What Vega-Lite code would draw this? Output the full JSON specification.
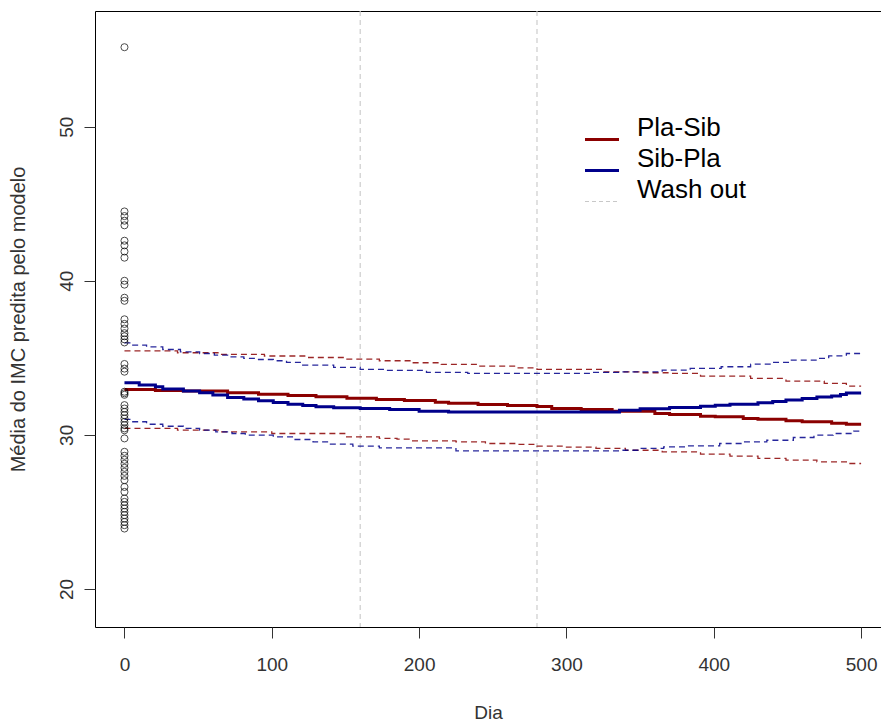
{
  "$schema": "https://vega.github.io/schema/vega-lite/v6.json",
  "width": 786,
  "height": 616,
  "autosize": "none",
  "padding": {"left": 95, "top": 11, "right": 0, "bottom": 95},
  "background": "white",
  "config": {
    "view": {"stroke": "#000000", "strokeWidth": 1},
    "font": "Liberation Sans",
    "axis": {
      "grid": false,
      "domain": false,
      "labelFont": "Liberation Sans",
      "labelFontSize": 19,
      "labelColor": "#333333",
      "titleFont": "Liberation Sans",
      "titleFontSize": 19,
      "titleFontWeight": "normal",
      "titleColor": "#333333",
      "tickColor": "#333333",
      "tickSize": 11
    }
  },
  "datasets": {
    "pontos": [
      {"dia": 0, "imc": 55.16}, {"dia": 0, "imc": 44.5}, {"dia": 0, "imc": 44.2}, {"dia": 0, "imc": 43.9},
      {"dia": 0, "imc": 43.6}, {"dia": 0, "imc": 42.6}, {"dia": 0, "imc": 42.3}, {"dia": 0, "imc": 41.9},
      {"dia": 0, "imc": 41.5}, {"dia": 0, "imc": 40.0}, {"dia": 0, "imc": 39.75}, {"dia": 0, "imc": 38.9},
      {"dia": 0, "imc": 38.7}, {"dia": 0, "imc": 37.5}, {"dia": 0, "imc": 37.2}, {"dia": 0, "imc": 36.9},
      {"dia": 0, "imc": 36.6}, {"dia": 0, "imc": 36.4}, {"dia": 0, "imc": 36.2}, {"dia": 0, "imc": 36.0},
      {"dia": 0, "imc": 34.6}, {"dia": 0, "imc": 34.3}, {"dia": 0, "imc": 34.1}, {"dia": 0, "imc": 32.8},
      {"dia": 0, "imc": 32.7}, {"dia": 0, "imc": 32.6}, {"dia": 0, "imc": 31.93}, {"dia": 0, "imc": 31.71},
      {"dia": 0, "imc": 31.49}, {"dia": 0, "imc": 31.28}, {"dia": 0, "imc": 31.06}, {"dia": 0, "imc": 30.84},
      {"dia": 0, "imc": 30.63}, {"dia": 0, "imc": 30.42}, {"dia": 0, "imc": 30.3}, {"dia": 0, "imc": 29.77},
      {"dia": 0, "imc": 28.9}, {"dia": 0, "imc": 28.64}, {"dia": 0, "imc": 28.38}, {"dia": 0, "imc": 28.12},
      {"dia": 0, "imc": 27.86}, {"dia": 0, "imc": 27.6}, {"dia": 0, "imc": 27.34}, {"dia": 0, "imc": 27.06},
      {"dia": 0, "imc": 26.62}, {"dia": 0, "imc": 26.3}, {"dia": 0, "imc": 25.87}, {"dia": 0, "imc": 25.65},
      {"dia": 0, "imc": 25.43}, {"dia": 0, "imc": 25.22}, {"dia": 0, "imc": 25.0}, {"dia": 0, "imc": 24.79},
      {"dia": 0, "imc": 24.57}, {"dia": 0, "imc": 24.35}, {"dia": 0, "imc": 24.14}, {"dia": 0, "imc": 23.92}
    ],
    "washout": [
      {"dia": 160, "grupo": "Wash out"},
      {"dia": 280, "grupo": "Wash out"}
    ],
    "curvas": [
      {"grupo": "Pla-Sib", "tipo": "est", "dia": 0, "imc": 32.95},
      {"grupo": "Pla-Sib", "tipo": "est", "dia": 21, "imc": 32.88},
      {"grupo": "Pla-Sib", "tipo": "est", "dia": 40, "imc": 32.84},
      {"grupo": "Pla-Sib", "tipo": "est", "dia": 70, "imc": 32.73},
      {"grupo": "Pla-Sib", "tipo": "est", "dia": 91, "imc": 32.64},
      {"grupo": "Pla-Sib", "tipo": "est", "dia": 111, "imc": 32.56},
      {"grupo": "Pla-Sib", "tipo": "est", "dia": 130, "imc": 32.47},
      {"grupo": "Pla-Sib", "tipo": "est", "dia": 151, "imc": 32.38},
      {"grupo": "Pla-Sib", "tipo": "est", "dia": 171, "imc": 32.30},
      {"grupo": "Pla-Sib", "tipo": "est", "dia": 190, "imc": 32.23},
      {"grupo": "Pla-Sib", "tipo": "est", "dia": 211, "imc": 32.12},
      {"grupo": "Pla-Sib", "tipo": "est", "dia": 220, "imc": 32.06},
      {"grupo": "Pla-Sib", "tipo": "est", "dia": 240, "imc": 31.97},
      {"grupo": "Pla-Sib", "tipo": "est", "dia": 260, "imc": 31.91},
      {"grupo": "Pla-Sib", "tipo": "est", "dia": 280, "imc": 31.84},
      {"grupo": "Pla-Sib", "tipo": "est", "dia": 290, "imc": 31.71},
      {"grupo": "Pla-Sib", "tipo": "est", "dia": 310, "imc": 31.65},
      {"grupo": "Pla-Sib", "tipo": "est", "dia": 331, "imc": 31.54},
      {"grupo": "Pla-Sib", "tipo": "est", "dia": 360, "imc": 31.39},
      {"grupo": "Pla-Sib", "tipo": "est", "dia": 370, "imc": 31.32},
      {"grupo": "Pla-Sib", "tipo": "est", "dia": 391, "imc": 31.21},
      {"grupo": "Pla-Sib", "tipo": "est", "dia": 401, "imc": 31.17},
      {"grupo": "Pla-Sib", "tipo": "est", "dia": 420, "imc": 31.06},
      {"grupo": "Pla-Sib", "tipo": "est", "dia": 430, "imc": 31.02},
      {"grupo": "Pla-Sib", "tipo": "est", "dia": 449, "imc": 30.91},
      {"grupo": "Pla-Sib", "tipo": "est", "dia": 460, "imc": 30.85},
      {"grupo": "Pla-Sib", "tipo": "est", "dia": 480, "imc": 30.76},
      {"grupo": "Pla-Sib", "tipo": "est", "dia": 490, "imc": 30.69},
      {"grupo": "Pla-Sib", "tipo": "est", "dia": 500, "imc": 30.69},

      {"grupo": "Sib-Pla", "tipo": "est", "dia": 0, "imc": 33.38},
      {"grupo": "Sib-Pla", "tipo": "est", "dia": 10, "imc": 33.23},
      {"grupo": "Sib-Pla", "tipo": "est", "dia": 21, "imc": 33.12},
      {"grupo": "Sib-Pla", "tipo": "est", "dia": 26, "imc": 32.97},
      {"grupo": "Sib-Pla", "tipo": "est", "dia": 40, "imc": 32.84},
      {"grupo": "Sib-Pla", "tipo": "est", "dia": 51, "imc": 32.73},
      {"grupo": "Sib-Pla", "tipo": "est", "dia": 60, "imc": 32.58},
      {"grupo": "Sib-Pla", "tipo": "est", "dia": 70, "imc": 32.43},
      {"grupo": "Sib-Pla", "tipo": "est", "dia": 81, "imc": 32.32},
      {"grupo": "Sib-Pla", "tipo": "est", "dia": 91, "imc": 32.21},
      {"grupo": "Sib-Pla", "tipo": "est", "dia": 101, "imc": 32.10},
      {"grupo": "Sib-Pla", "tipo": "est", "dia": 111, "imc": 31.99},
      {"grupo": "Sib-Pla", "tipo": "est", "dia": 121, "imc": 31.91},
      {"grupo": "Sib-Pla", "tipo": "est", "dia": 130, "imc": 31.82},
      {"grupo": "Sib-Pla", "tipo": "est", "dia": 142, "imc": 31.76},
      {"grupo": "Sib-Pla", "tipo": "est", "dia": 160, "imc": 31.71},
      {"grupo": "Sib-Pla", "tipo": "est", "dia": 180, "imc": 31.65},
      {"grupo": "Sib-Pla", "tipo": "est", "dia": 200, "imc": 31.54},
      {"grupo": "Sib-Pla", "tipo": "est", "dia": 220, "imc": 31.49},
      {"grupo": "Sib-Pla", "tipo": "est", "dia": 336, "imc": 31.60},
      {"grupo": "Sib-Pla", "tipo": "est", "dia": 350, "imc": 31.69},
      {"grupo": "Sib-Pla", "tipo": "est", "dia": 370, "imc": 31.78},
      {"grupo": "Sib-Pla", "tipo": "est", "dia": 391, "imc": 31.86},
      {"grupo": "Sib-Pla", "tipo": "est", "dia": 401, "imc": 31.93},
      {"grupo": "Sib-Pla", "tipo": "est", "dia": 411, "imc": 31.99},
      {"grupo": "Sib-Pla", "tipo": "est", "dia": 430, "imc": 32.08},
      {"grupo": "Sib-Pla", "tipo": "est", "dia": 440, "imc": 32.17},
      {"grupo": "Sib-Pla", "tipo": "est", "dia": 449, "imc": 32.27},
      {"grupo": "Sib-Pla", "tipo": "est", "dia": 460, "imc": 32.36},
      {"grupo": "Sib-Pla", "tipo": "est", "dia": 470, "imc": 32.45},
      {"grupo": "Sib-Pla", "tipo": "est", "dia": 480, "imc": 32.53},
      {"grupo": "Sib-Pla", "tipo": "est", "dia": 486, "imc": 32.62},
      {"grupo": "Sib-Pla", "tipo": "est", "dia": 490, "imc": 32.71},
      {"grupo": "Sib-Pla", "tipo": "est", "dia": 500, "imc": 32.71},

      {"grupo": "Pla-Sib", "tipo": "sup", "dia": 0, "imc": 35.45},
      {"grupo": "Pla-Sib", "tipo": "sup", "dia": 36, "imc": 35.33},
      {"grupo": "Pla-Sib", "tipo": "sup", "dia": 65, "imc": 35.22},
      {"grupo": "Pla-Sib", "tipo": "sup", "dia": 95, "imc": 35.12},
      {"grupo": "Pla-Sib", "tipo": "sup", "dia": 125, "imc": 35.02},
      {"grupo": "Pla-Sib", "tipo": "sup", "dia": 150, "imc": 34.92},
      {"grupo": "Pla-Sib", "tipo": "sup", "dia": 173, "imc": 34.81},
      {"grupo": "Pla-Sib", "tipo": "sup", "dia": 195, "imc": 34.68},
      {"grupo": "Pla-Sib", "tipo": "sup", "dia": 215, "imc": 34.57},
      {"grupo": "Pla-Sib", "tipo": "sup", "dia": 240, "imc": 34.46},
      {"grupo": "Pla-Sib", "tipo": "sup", "dia": 266, "imc": 34.35},
      {"grupo": "Pla-Sib", "tipo": "sup", "dia": 280, "imc": 34.25},
      {"grupo": "Pla-Sib", "tipo": "sup", "dia": 325, "imc": 34.09},
      {"grupo": "Pla-Sib", "tipo": "sup", "dia": 350, "imc": 34.03},
      {"grupo": "Pla-Sib", "tipo": "sup", "dia": 370, "imc": 33.99},
      {"grupo": "Pla-Sib", "tipo": "sup", "dia": 391, "imc": 33.81},
      {"grupo": "Pla-Sib", "tipo": "sup", "dia": 425, "imc": 33.66},
      {"grupo": "Pla-Sib", "tipo": "sup", "dia": 449, "imc": 33.49},
      {"grupo": "Pla-Sib", "tipo": "sup", "dia": 475, "imc": 33.34},
      {"grupo": "Pla-Sib", "tipo": "sup", "dia": 490, "imc": 33.16},
      {"grupo": "Pla-Sib", "tipo": "sup", "dia": 500, "imc": 33.16},

      {"grupo": "Pla-Sib", "tipo": "inf", "dia": 0, "imc": 30.42},
      {"grupo": "Pla-Sib", "tipo": "inf", "dia": 36, "imc": 30.31},
      {"grupo": "Pla-Sib", "tipo": "inf", "dia": 65, "imc": 30.20},
      {"grupo": "Pla-Sib", "tipo": "inf", "dia": 100, "imc": 30.09},
      {"grupo": "Pla-Sib", "tipo": "inf", "dia": 150, "imc": 29.87},
      {"grupo": "Pla-Sib", "tipo": "inf", "dia": 173, "imc": 29.77},
      {"grupo": "Pla-Sib", "tipo": "inf", "dia": 185, "imc": 29.72},
      {"grupo": "Pla-Sib", "tipo": "inf", "dia": 195, "imc": 29.61},
      {"grupo": "Pla-Sib", "tipo": "inf", "dia": 225, "imc": 29.55},
      {"grupo": "Pla-Sib", "tipo": "inf", "dia": 245, "imc": 29.44},
      {"grupo": "Pla-Sib", "tipo": "inf", "dia": 266, "imc": 29.38},
      {"grupo": "Pla-Sib", "tipo": "inf", "dia": 280, "imc": 29.27},
      {"grupo": "Pla-Sib", "tipo": "inf", "dia": 300, "imc": 29.20},
      {"grupo": "Pla-Sib", "tipo": "inf", "dia": 320, "imc": 29.12},
      {"grupo": "Pla-Sib", "tipo": "inf", "dia": 340, "imc": 29.00},
      {"grupo": "Pla-Sib", "tipo": "inf", "dia": 365, "imc": 28.90},
      {"grupo": "Pla-Sib", "tipo": "inf", "dia": 391, "imc": 28.75},
      {"grupo": "Pla-Sib", "tipo": "inf", "dia": 411, "imc": 28.62},
      {"grupo": "Pla-Sib", "tipo": "inf", "dia": 430, "imc": 28.47},
      {"grupo": "Pla-Sib", "tipo": "inf", "dia": 449, "imc": 28.36},
      {"grupo": "Pla-Sib", "tipo": "inf", "dia": 470, "imc": 28.25},
      {"grupo": "Pla-Sib", "tipo": "inf", "dia": 490, "imc": 28.14},
      {"grupo": "Pla-Sib", "tipo": "inf", "dia": 500, "imc": 28.14},

      {"grupo": "Sib-Pla", "tipo": "sup", "dia": 0, "imc": 35.97},
      {"grupo": "Sib-Pla", "tipo": "sup", "dia": 5, "imc": 35.82},
      {"grupo": "Sib-Pla", "tipo": "sup", "dia": 15, "imc": 35.71},
      {"grupo": "Sib-Pla", "tipo": "sup", "dia": 26, "imc": 35.54},
      {"grupo": "Sib-Pla", "tipo": "sup", "dia": 38, "imc": 35.39},
      {"grupo": "Sib-Pla", "tipo": "sup", "dia": 51, "imc": 35.28},
      {"grupo": "Sib-Pla", "tipo": "sup", "dia": 61, "imc": 35.17},
      {"grupo": "Sib-Pla", "tipo": "sup", "dia": 70, "imc": 35.06},
      {"grupo": "Sib-Pla", "tipo": "sup", "dia": 81, "imc": 34.96},
      {"grupo": "Sib-Pla", "tipo": "sup", "dia": 91, "imc": 34.89},
      {"grupo": "Sib-Pla", "tipo": "sup", "dia": 101, "imc": 34.81},
      {"grupo": "Sib-Pla", "tipo": "sup", "dia": 110, "imc": 34.70},
      {"grupo": "Sib-Pla", "tipo": "sup", "dia": 121, "imc": 34.53},
      {"grupo": "Sib-Pla", "tipo": "sup", "dia": 142, "imc": 34.38},
      {"grupo": "Sib-Pla", "tipo": "sup", "dia": 160, "imc": 34.25},
      {"grupo": "Sib-Pla", "tipo": "sup", "dia": 178, "imc": 34.18},
      {"grupo": "Sib-Pla", "tipo": "sup", "dia": 205, "imc": 34.05},
      {"grupo": "Sib-Pla", "tipo": "sup", "dia": 233, "imc": 33.99},
      {"grupo": "Sib-Pla", "tipo": "sup", "dia": 318, "imc": 34.05},
      {"grupo": "Sib-Pla", "tipo": "sup", "dia": 336, "imc": 34.09},
      {"grupo": "Sib-Pla", "tipo": "sup", "dia": 365, "imc": 34.20},
      {"grupo": "Sib-Pla", "tipo": "sup", "dia": 384, "imc": 34.31},
      {"grupo": "Sib-Pla", "tipo": "sup", "dia": 405, "imc": 34.42},
      {"grupo": "Sib-Pla", "tipo": "sup", "dia": 425, "imc": 34.59},
      {"grupo": "Sib-Pla", "tipo": "sup", "dia": 440, "imc": 34.70},
      {"grupo": "Sib-Pla", "tipo": "sup", "dia": 452, "imc": 34.85},
      {"grupo": "Sib-Pla", "tipo": "sup", "dia": 470, "imc": 34.96},
      {"grupo": "Sib-Pla", "tipo": "sup", "dia": 478, "imc": 35.13},
      {"grupo": "Sib-Pla", "tipo": "sup", "dia": 490, "imc": 35.28},
      {"grupo": "Sib-Pla", "tipo": "sup", "dia": 500, "imc": 35.28},

      {"grupo": "Sib-Pla", "tipo": "inf", "dia": 0, "imc": 31.0},
      {"grupo": "Sib-Pla", "tipo": "inf", "dia": 5, "imc": 30.85},
      {"grupo": "Sib-Pla", "tipo": "inf", "dia": 15, "imc": 30.69},
      {"grupo": "Sib-Pla", "tipo": "inf", "dia": 26, "imc": 30.56},
      {"grupo": "Sib-Pla", "tipo": "inf", "dia": 40, "imc": 30.42},
      {"grupo": "Sib-Pla", "tipo": "inf", "dia": 51, "imc": 30.31},
      {"grupo": "Sib-Pla", "tipo": "inf", "dia": 62, "imc": 30.20},
      {"grupo": "Sib-Pla", "tipo": "inf", "dia": 73, "imc": 30.09},
      {"grupo": "Sib-Pla", "tipo": "inf", "dia": 82, "imc": 29.98},
      {"grupo": "Sib-Pla", "tipo": "inf", "dia": 101, "imc": 29.87},
      {"grupo": "Sib-Pla", "tipo": "inf", "dia": 114, "imc": 29.70},
      {"grupo": "Sib-Pla", "tipo": "inf", "dia": 128, "imc": 29.55},
      {"grupo": "Sib-Pla", "tipo": "inf", "dia": 139, "imc": 29.40},
      {"grupo": "Sib-Pla", "tipo": "inf", "dia": 155, "imc": 29.27},
      {"grupo": "Sib-Pla", "tipo": "inf", "dia": 173, "imc": 29.15},
      {"grupo": "Sib-Pla", "tipo": "inf", "dia": 225, "imc": 28.96},
      {"grupo": "Sib-Pla", "tipo": "inf", "dia": 336, "imc": 29.0},
      {"grupo": "Sib-Pla", "tipo": "inf", "dia": 350, "imc": 29.12},
      {"grupo": "Sib-Pla", "tipo": "inf", "dia": 366, "imc": 29.22},
      {"grupo": "Sib-Pla", "tipo": "inf", "dia": 382, "imc": 29.29},
      {"grupo": "Sib-Pla", "tipo": "inf", "dia": 404, "imc": 29.44},
      {"grupo": "Sib-Pla", "tipo": "inf", "dia": 420, "imc": 29.55},
      {"grupo": "Sib-Pla", "tipo": "inf", "dia": 436, "imc": 29.65},
      {"grupo": "Sib-Pla", "tipo": "inf", "dia": 454, "imc": 29.83},
      {"grupo": "Sib-Pla", "tipo": "inf", "dia": 468, "imc": 29.98},
      {"grupo": "Sib-Pla", "tipo": "inf", "dia": 481, "imc": 30.09},
      {"grupo": "Sib-Pla", "tipo": "inf", "dia": 495, "imc": 30.24},
      {"grupo": "Sib-Pla", "tipo": "inf", "dia": 500, "imc": 30.24}
    ]
  },
  "encoding": {
    "x": {
      "field": "dia", "type": "quantitative",
      "scale": {"domain": [-20, 513.5], "nice": false, "zero": false},
      "axis": {
        "title": "Dia",
        "values": [0, 100, 200, 300, 400, 500],
        "labelPadding": 17,
        "titleX": 393, "titleY": 85, "titleBaseline": "middle", "titleAlign": "center"
      }
    },
    "y": {
      "field": "imc", "type": "quantitative",
      "scale": {"domain": [17.53, 57.51], "nice": false, "zero": false},
      "axis": {
        "title": "Média do IMC predita pelo modelo",
        "titleFontSize": 20,
        "values": [20, 30, 40, 50],
        "labelAngle": -90,
        "labelAlign": "center",
        "labelBaseline": "bottom",
        "labelPadding": 8,
        "titleAngle": -90,
        "titleX": -77, "titleY": 308, "titleBaseline": "middle", "titleAlign": "center"
      }
    }
  },
  "layer": [
    {
      "data": {"name": "washout"},
      "mark": {"type": "rule", "strokeWidth": 1.1, "strokeDash": [5, 4]},
      "encoding": {
        "y": null,
        "color": {
          "field": "grupo", "type": "nominal",
          "scale": {"domain": ["Pla-Sib", "Sib-Pla", "Wash out"], "range": ["#8B0000", "#00008B", "#C8C8C8"]},
          "legend": {
            "title": null,
            "orient": "none",
            "legendX": 494,
            "legendY": 111.5,
            "padding": 0,
            "labelFont": "Liberation Sans",
            "labelFontSize": 26,
            "labelColor": "#000000",
            "labelBaseline": "alphabetic",
            "labelOffset": 22,
            "labelLimit": 0,
            "rowPadding": 0,
            "symbolType": "stroke",
            "symbolSize": 400,
            "symbolStrokeWidth": 3,
            "encode": {
              "symbols": {
                "update": {
                  "shape": {"value": "M-1.7,0.4L1.7,0.4"},
                  "strokeDash": {"signal": "datum.value == 'Wash out' ? [4, 3] : [1, 0]"},
                  "strokeWidth": {"signal": "datum.value == 'Wash out' ? 1.2 : 3"}
                }
              }
            }
          }
        }
      }
    },
    {
      "data": {"name": "curvas"},
      "transform": [{"filter": "datum.tipo != 'est'"}],
      "mark": {"type": "line", "interpolate": "step-after", "strokeWidth": 1.3, "strokeDash": [6, 4], "opacity": 0.85},
      "encoding": {
        "color": {"field": "grupo", "type": "nominal"},
        "detail": {"field": "tipo"}
      }
    },
    {
      "data": {"name": "curvas"},
      "transform": [{"filter": "datum.tipo == 'est'"}],
      "mark": {"type": "line", "interpolate": "step-after", "strokeWidth": 3},
      "encoding": {
        "color": {"field": "grupo", "type": "nominal"}
      }
    },
    {
      "data": {"name": "pontos"},
      "mark": {"type": "point", "shape": "circle", "filled": false, "color": "#000000", "size": 50, "strokeWidth": 1}
    }
  ]
}
